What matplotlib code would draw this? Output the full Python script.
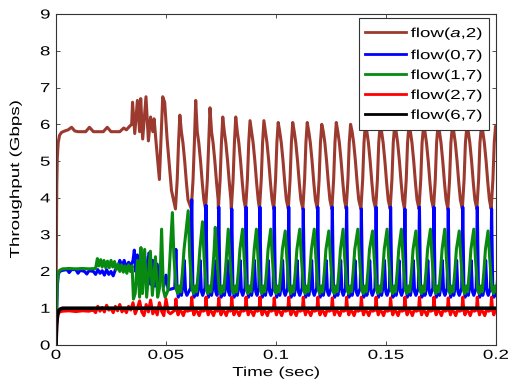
import numpy as np
import matplotlib
matplotlib.use("Agg")
import matplotlib.pyplot as plt
from matplotlib.patheffects import AbstractPathEffect
from matplotlib.transforms import Affine2D

plt.rcParams["font.family"] = ["Liberation Sans", "DejaVu Sans"]
plt.rcParams["mathtext.fontset"] = "custom"
plt.rcParams["mathtext.rm"] = "Liberation Sans"
plt.rcParams["mathtext.it"] = "Liberation Sans:italic"

# ---------------------------------------------------------------------
# Start-up / transient part of each trace (time in ms, throughput in Gbps)
# ---------------------------------------------------------------------
brown_t = [0, 0.15, 0.35, 0.6, 1.0, 1.6, 2.5, 4.0, 5.5, 7.1, 8.5, 10.0, 13.5, 15.2,
           17.0, 21.5, 23.3, 25.0, 29.0, 30.8, 32.0, 33.5, 34.4, 34.8, 35.8, 37.0,
           38.0, 38.5, 39.4, 40.9, 42.0, 43.0, 44.0, 44.6, 45.5, 47.0, 48.5, 49.4,
           50.5, 51.5, 52.5]
brown_v = [0, 2.5, 4.3, 5.1, 5.5, 5.7, 5.78, 5.82, 5.85, 5.92, 5.82, 5.8, 5.8, 5.92,
           5.8, 5.8, 5.92, 5.8, 5.8, 5.9, 5.85, 5.95, 6.0, 6.6, 5.75, 6.65,
           5.8, 6.7, 5.6, 6.75, 5.55, 6.2, 5.8, 6.15, 5.5, 4.5, 6.75, 6.6,
           5.6, 4.9, 4.2]

blue_t = [0, 0.3, 0.6, 1.0, 1.6, 3, 5, 6, 7, 9, 10, 11, 13, 14, 15, 17, 18, 19, 20,
          21, 22, 23, 24, 25, 26, 27, 28, 29, 30, 31, 32, 33, 34, 35, 35.6, 36.2,
          37, 37.8, 38.6, 39.5, 40.4, 41.3, 42.2, 43, 44, 45, 46, 47, 48, 49, 50, 51]
blue_v = [0, 0.9, 1.6, 1.9, 2.0, 2.03, 2.05, 1.97, 2.05, 2.05, 1.95, 2.03, 2.0, 1.93,
          2.02, 2.0, 1.92, 2.05, 1.95, 2.02, 1.9, 2.05, 1.92, 2.0, 1.88, 2.05, 2.1,
          2.3, 2.15, 2.3, 2.1, 2.25, 2.15, 2.3, 2.58, 2.0, 2.45, 1.8, 2.5, 1.75, 2.4,
          1.7, 2.5, 1.65, 2.3, 1.6, 2.2, 1.7, 2.0, 1.6, 1.9, 1.5]

green_t = [0, 0.3, 0.6, 1.0, 1.6, 3, 6, 9, 12, 15, 18, 18.8, 19.5, 20.3, 21, 21.8,
           22.6, 23.4, 24.2, 25, 25.8, 26.6, 27.4, 28.2, 29, 29.8, 30.6, 31.4, 32.2,
           33, 33.8, 34.6, 35.2, 36, 37, 38, 38.6, 39.3, 40.3, 41.2, 42.9, 43.8,
           45.2, 46.2, 47.2, 48, 48.8, 49.6, 51]
green_v = [0, 1.0, 1.7, 1.95, 2.03, 2.07, 2.08, 2.07, 2.08, 2.07, 2.08, 2.35, 2.15,
           2.32, 2.12, 2.3, 2.1, 2.28, 2.1, 2.3, 2.12, 2.27, 2.05, 2.2, 2.0, 2.18,
           1.98, 2.15, 1.95, 2.18, 2.0, 2.15, 1.25, 1.4, 2.3, 1.3, 2.65, 1.4, 2.6,
           1.3, 2.55, 1.35, 2.4, 1.3, 1.6, 3.15, 1.5, 1.3, 1.5]

red_t = [0, 0.4, 0.9, 1.6, 3, 6, 9, 12, 15, 17, 18, 19, 20, 21, 22, 23, 24, 25, 26,
         27, 28, 29, 30, 31, 32, 33, 34, 35, 36, 37, 38, 39, 40, 41, 42, 43, 44, 45,
         46, 47, 48, 49, 50, 51, 52]
red_v = [0, 0.6, 0.82, 0.9, 0.92, 0.93, 0.91, 0.93, 0.92, 0.95, 0.88, 1.05, 0.92,
         1.02, 0.9, 1.08, 0.95, 1.0, 0.88, 1.05, 0.93, 1.1, 0.9, 1.0, 0.88, 1.05,
         0.95, 1.15, 0.85, 1.0, 1.2, 0.9, 0.8, 1.1, 0.9, 1.22, 0.85, 1.0, 0.82,
         1.15, 0.92, 0.8, 1.25, 0.9, 0.85]

black_t = [0, 0.3, 0.7, 1.2, 2.0, 3.0, 200]
black_v = [0, 0.55, 0.82, 0.93, 0.98, 1.0, 1.0]

# ---------------------------------------------------------------------
# Oscillating regime: one entry per cycle, keyed on the flow(0,7) burst
# ---------------------------------------------------------------------
cycle_ms = [54.5, 61.7, 68.2, 74.0, 79.9, 86.4, 92.7, 99.2, 105.8, 112.4, 119.0,
            125.6, 132.1, 138.8, 145.5, 152.1, 158.6, 165.2, 171.8, 178.3, 184.9,
            191.5, 198.0]
brown_peak = [6.25, 6.65, 6.45, 6.2, 6.2, 6.1, 6.1, 6.05, 6.05, 6.05, 6.0, 6.05,
              6.0, 6.0, 5.95, 5.95, 5.95, 5.9, 5.95, 5.9, 5.9, 5.9, 5.95]
blue_peak = [2.6, 3.95, 3.8, 3.75, 3.7, 3.75, 3.75, 3.75, 3.75, 3.7, 3.75, 3.75,
             3.75, 3.7, 3.75, 3.75, 3.7, 3.75, 3.75, 3.7, 3.75, 3.75, 3.7]
green_peak = [3.6, 3.65, 3.35, 3.2, 3.15, 3.15, 3.15, 3.15, 3.1, 3.15, 3.15, 3.1,
              3.15, 3.15, 3.1, 3.15, 3.15, 3.1, 3.15, 3.15, 3.1, 3.15, 3.1]
red_peak = [1.25, 1.3, 1.3, 1.28, 1.3, 1.3, 1.3, 1.28, 1.3, 1.3, 1.3, 1.28, 1.3,
            1.3, 1.3, 1.28, 1.3, 1.3, 1.3, 1.28, 1.3, 1.3, 1.3]

# within-cycle shape: offsets (ms) from the burst and levels; None = per-cycle peak
brown_dt = [-0.2, 0.6, 1.2, 1.8, 2.5, 3.2, 4.0, 4.8, 5.5]
brown_lv = [3.7, 4.5, 5.5, None, 5.8, 5.5, 5.0, 4.4, 3.95]
blue_dt = [-0.5, 0.0, 0.5, 1.1, 1.8, 2.5, 3.1, 3.8, 4.4, 5.0]
blue_lv = [1.55, None, 1.6, 1.3, 1.6, 1.35, 1.55, 2.3, 1.45, 1.35]
green_dt = [-1.6, -0.9, 0.2, 0.9, 1.5, 2.2, 3.0, 3.7]
green_lv = [None, 2.4, 1.5, 1.4, 1.6, 1.45, 2.0, 2.6]
red_dt = [-0.4, 0.0, 0.4, 1.0, 1.6, 2.6, 3.4, 4.2, 5.2]
red_lv = [0.95, None, 0.98, 0.82, 0.95, 0.9, 0.8, 0.95, 0.92]

labels = ["flow($\\mathit{a}$,2)", "flow(0,7)", "flow(1,7)", "flow(2,7)", "flow(6,7)"]
colors = ["#9c3a2f", "#0000ff", "#088a10", "#ff0000", "#000000"]
widths = [2.2, 2.2, 2.2, 2.2, 2.6]

x_ticks = [0, 0.05, 0.1, 0.15, 0.2]
x_tick_labels = ["0", "0.05", "0.1", "0.15", "0.2"]
y_ticks = list(range(10))


def trace(early_t, early_v, dt, levels, peaks):
    t = list(early_t)
    v = list(early_v)
    for t0, pk in zip(cycle_ms, peaks):
        for d, lv in zip(dt, levels):
            t.append(t0 + d)
            v.append(pk if lv is None else lv)
    return np.array(t) / 1000.0, np.array(v)


class Squeeze(AbstractPathEffect):
    """Draw glyphs flattened vertically about their own middle."""

    def __init__(self, sy=0.7):
        super().__init__()
        self._sy = sy

    def draw_path(self, renderer, gc, tpath, affine, rgbFace=None):
        ext = tpath.get_extents()
        yc = 0.5 * (ext.y0 + ext.y1)
        squash = Affine2D().translate(0, -yc).scale(1, self._sy).translate(0, yc)
        renderer.draw_path(gc, tpath, squash + affine, rgbFace)


series = [
    trace(brown_t, brown_v, brown_dt, brown_lv, brown_peak),
    trace(blue_t, blue_v, blue_dt, blue_lv, blue_peak),
    trace(green_t, green_v, green_dt, green_lv, green_peak),
    trace(red_t, red_v, red_dt, red_lv, red_peak),
    (np.array(black_t) / 1000.0, np.array(black_v)),
]

fig = plt.figure(figsize=(5.11, 3.87), dpi=100)
ax = fig.add_axes([56 / 511, 1 - 345 / 387, 440 / 511, 331 / 387])

for (t, v), lab, c, lw in zip(series, labels, colors, widths):
    ax.plot(t, v, color=c, linewidth=lw, label=lab)

ax.set_xlim(0, 0.2)
ax.set_ylim(0, 9)
ax.set_xticks(x_ticks)
ax.set_xticklabels(x_tick_labels)
ax.set_yticks(y_ticks)
ax.tick_params(direction="in", top=True, right=True, length=3, width=0.6,
               labelsize=13.5, color="#333333")
ax.tick_params(axis="x", pad=2)
ax.tick_params(axis="y", pad=4)
for sp in ax.spines.values():
    sp.set_linewidth(0.8)
    sp.set_color("#333333")

ax.set_xlabel("Time (sec)", fontsize=13.5, va="center")
ax.set_ylabel("Throughput (Gbps)", fontsize=13.5, va="center")
ax.xaxis.set_label_coords(0.5, -28 / 331)
ax.yaxis.set_label_coords(-40 / 440, 0.5)

leg = ax.legend(loc="upper right", bbox_to_anchor=(489 / 511, 1 - 18 / 387),
                bbox_transform=fig.transFigure, borderaxespad=0, fontsize=13.5,
                handlelength=2.2, handletextpad=0.25, borderpad=0.3,
                labelspacing=0.15, fancybox=False, framealpha=1,
                edgecolor="#333333")
leg.get_frame().set_linewidth(0.8)
for h in leg.get_lines():
    h.set_linewidth(2.0)

squeeze = [Squeeze(0.7)]
for txt in (ax.get_xticklabels() + ax.get_yticklabels() + leg.get_texts()
            + [ax.xaxis.label, ax.yaxis.label]):
    txt.set_path_effects(squeeze)

fig.savefig("out.png", dpi=100)
